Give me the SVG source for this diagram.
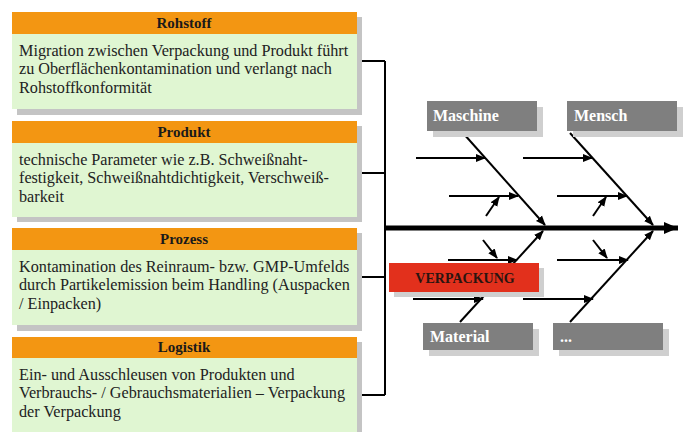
<svg xmlns="http://www.w3.org/2000/svg" width="685" height="432" viewBox="0 0 685 432">
<defs>
<style>
.hdr{fill:#F39612}
.body{fill:#E0F6D2}
.shd{fill:#C4C4C4}
.ht{font-family:"Liberation Serif",serif;font-weight:bold;font-size:15px;fill:#1a1a1a;text-anchor:middle}
.bt{font-family:"Liberation Serif",serif;font-size:16.2px;fill:#222}
.gbox{fill:#7F7F7F}
.gshd{fill:#CFCFCF}
.gt{font-family:"Liberation Serif",serif;font-weight:bold;font-size:16px;fill:#fff}
.ln{stroke:#000;stroke-width:2;fill:none}
.ar{stroke:#000;stroke-width:2;fill:none;marker-end:url(#ah)}
</style>
<marker id="ah" viewBox="0 0 10 10" refX="9" refY="5" markerWidth="5" markerHeight="5" orient="auto" markerUnits="strokeWidth">
<path d="M0,1 L10,5 L0,9 z" fill="#000"/>
</marker>
<marker id="big" viewBox="0 0 10 10" refX="10" refY="5" markerWidth="2.8" markerHeight="2.4" orient="auto" markerUnits="strokeWidth" preserveAspectRatio="none">
<path d="M0,0 L10,5 L0,10 z" fill="#000"/>
</marker>
</defs>
<rect width="685" height="432" fill="#fff"/>

<g id="connectors">
<path class="ln" d="M357,61 H385 M357,173 H385 M357,277 H385 M357,395 H385 M385,61 V395"/>
<line x1="385" y1="228" x2="678" y2="228" stroke="#000" stroke-width="5" marker-end="url(#big)"/>
<line class="ar" x1="463" y1="133" x2="545" y2="225"/>
<line class="ar" x1="570" y1="133" x2="653" y2="225"/>
<line class="ar" x1="460" y1="322" x2="543" y2="231"/>
<line class="ar" x1="570" y1="322" x2="653" y2="231"/>
<line class="ar" x1="416" y1="158" x2="485" y2="158"/>
<line class="ar" x1="523" y1="158" x2="592" y2="158"/>
<line class="ar" x1="449" y1="196" x2="518" y2="196"/>
<line class="ar" x1="557" y1="196" x2="627" y2="196"/>
<line class="ar" x1="486" y1="216" x2="499" y2="197"/>
<line class="ar" x1="593" y1="216" x2="606" y2="197"/>
<line class="ar" x1="448" y1="260" x2="517" y2="260"/>
<line class="ar" x1="557" y1="260" x2="628" y2="260"/>
<line class="ar" x1="413" y1="299" x2="483" y2="299"/>
<line class="ar" x1="523" y1="299" x2="593" y2="299"/>
<line class="ar" x1="483" y1="240" x2="497" y2="258"/>
<line class="ar" x1="593" y1="240" x2="607" y2="258"/>
</g>

<g id="rohstoff">
<rect class="shd" x="17" y="17" width="345" height="98"/>
<rect class="body" x="12" y="34" width="345" height="75"/>
<rect class="hdr" x="12" y="12" width="345" height="22"/>
<text class="ht" x="184" y="28">Rohstoff</text>
<text class="bt" x="19" y="56">Migration zwischen Verpackung und Produkt führt</text>
<text class="bt" x="19" y="74">zu Oberflächenkontamination und verlangt nach</text>
<text class="bt" x="19" y="93">Rohstoffkonformität</text>
</g>

<g id="produkt">
<rect class="shd" x="17" y="126" width="345" height="96"/>
<rect class="body" x="12" y="143" width="345" height="74"/>
<rect class="hdr" x="12" y="121" width="345" height="22"/>
<text class="ht" x="184" y="137">Produkt</text>
<text class="bt" x="19" y="165">technische Parameter wie z.B. Schweißnaht-</text>
<text class="bt" x="19" y="183">festigkeit, Schweißnahtdichtigkeit, Verschweiß-</text>
<text class="bt" x="19" y="202">barkeit</text>
</g>

<g id="prozess">
<rect class="shd" x="17" y="233" width="345" height="98"/>
<rect class="body" x="12" y="250" width="345" height="75"/>
<rect class="hdr" x="12" y="228" width="345" height="22"/>
<text class="ht" x="184" y="244">Prozess</text>
<text class="bt" x="19" y="272">Kontamination des Reinraum- bzw. GMP-Umfelds</text>
<text class="bt" x="19" y="290">durch Partikelemission beim Handling (Auspacken</text>
<text class="bt" x="19" y="309">/ Einpacken)</text>
</g>

<g id="logistik">
<rect class="shd" x="17" y="342" width="345" height="95"/>
<rect class="body" x="12" y="358" width="345" height="80"/>
<rect class="hdr" x="12" y="337" width="345" height="21"/>
<text class="ht" x="184" y="352">Logistik</text>
<text class="bt" x="19" y="380">Ein- und Ausschleusen von Produkten und</text>
<text class="bt" x="19" y="398">Verbrauchs- / Gebrauchsmaterialien – Verpackung</text>
<text class="bt" x="19" y="417">der Verpackung</text>
</g>

<g id="maschine">
<rect class="gshd" x="433" y="107" width="110" height="30"/>
<rect class="gbox" x="427" y="101" width="110" height="30"/>
<text class="gt" x="433" y="121">Maschine</text>
</g>

<g id="mensch">
<rect class="gshd" x="573" y="107" width="110" height="30"/>
<rect class="gbox" x="567" y="101" width="110" height="30"/>
<text class="gt" x="574" y="121">Mensch</text>
</g>

<g id="verpackung">
<rect class="gshd" x="394" y="268" width="150" height="29"/>
<rect x="389" y="263" width="150" height="29" fill="#E2301C"/>
<text x="465" y="283" font-family="Liberation Serif, serif" font-weight="bold" font-size="14" fill="#2a1510" text-anchor="middle">VERPACKUNG</text>
</g>

<g id="material">
<rect class="gshd" x="429" y="329" width="110" height="27"/>
<rect class="gbox" x="423" y="323" width="110" height="27"/>
<text class="gt" x="430" y="342">Material</text>
</g>

<g id="etc">
<rect class="gshd" x="559" y="329" width="110" height="27"/>
<rect class="gbox" x="553" y="323" width="110" height="27"/>
<text class="gt" x="560" y="342">...</text>
</g>
</svg>
